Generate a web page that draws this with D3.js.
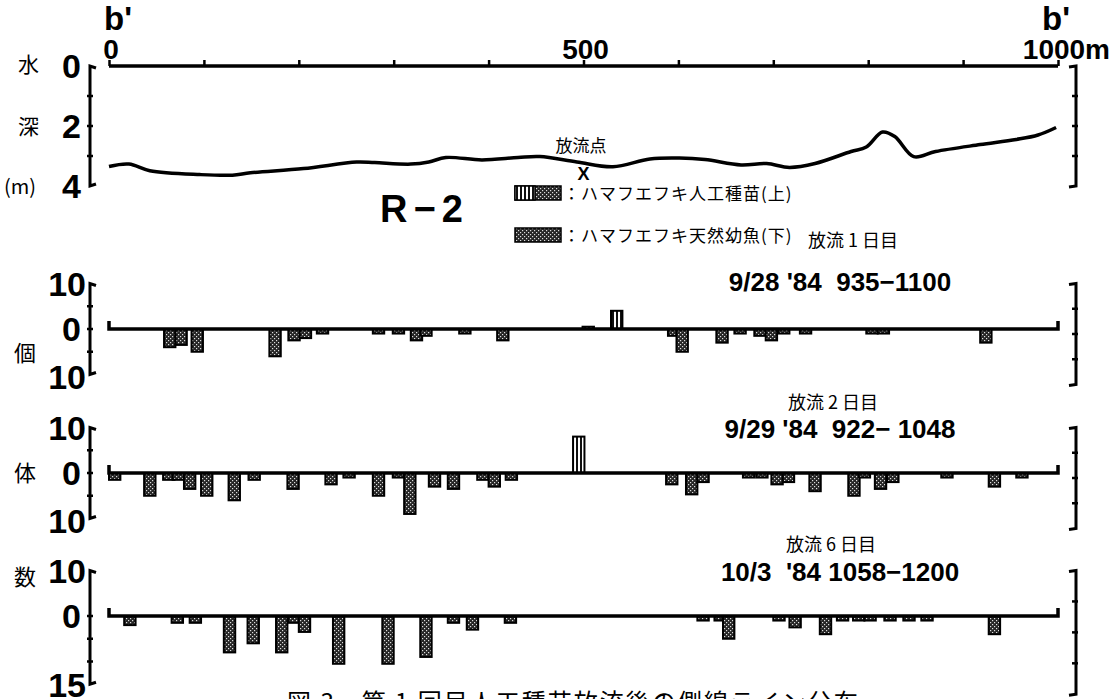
<!DOCTYPE html>
<html>
<head>
<meta charset="utf-8">
<script src="https://cdn.jsdelivr.net/npm/d3@7/dist/d3.min.js"></script>
<style>
  html, body { margin: 0; padding: 0; background: #fff; }
  svg { display: block; }
  .num { font-family: "Liberation Sans", "DejaVu Sans", sans-serif; font-weight: bold; fill: #000; }
  .jp { font-family: "Noto Sans CJK JP", sans-serif; fill: #000; }
</style>
</head>
<body>
<div id="chart"></div>
<script>
////////////////////////////////////////////////////////////
// Data
////////////////////////////////////////////////////////////

// distance along the line (m)
const dist_ticks = [0, 100, 200, 300, 400, 500, 600, 700, 800, 900, 1000]
const dist_labels = [[0, '0'], [500, '500'], [1000, '1000m']]

// water depth profile [distance m, depth m]
const depth_profile = [
  [0, 3.35], [21, 3.27], [43, 3.49], [96, 3.62], [130, 3.64], [149, 3.56],
  [205, 3.42], [261, 3.2], [280, 3.22], [318, 3.27], [337, 3.2], [355, 3.05],
  [393, 3.13], [431, 3.05], [454, 3.02], [493, 3.2], [531, 3.36], [570, 3.1],
  [601, 3.07], [628, 3.12], [666, 3.3], [693, 3.25], [717, 3.38], [744, 3.25],
  [782, 2.85], [798, 2.7], [815, 2.2], [828, 2.35], [848, 3.02], [871, 2.85],
  [918, 2.62], [956, 2.45], [979, 2.3], [998, 2.05]
]
const depth_ticks = [0, 2, 4]
const release_point = 500

// counts per 12 m cell: + = 人工種苗 (upper), - = 天然幼魚 (lower)
const bar_width_m = 12

const day1_bars = [
  [58, -4], [70, -3.5], [87, -5], [169, -6], [189, -2.5], [201, -2], [219, -1],
  [278, -1], [299, -1], [318, -2.5], [328, -1.5], [369, -1], [409, -2.5],
  [499, 0.5], [529, 4], [589, -1.5], [598, -5], [640, -3], [659, -1],
  [680, -1.5], [692, -2.5], [705, -1], [728, -1], [798, -1], [810, -1], [918, -3]
]

const day2_bars = [
  [0, -1.5], [37, -5], [57, -1.5], [67, -1.5], [79, -3.5], [97, -5], [126, -6],
  [147, -1.5], [188, -3.5], [228, -2.5], [247, -1], [278, -5], [299, -1],
  [311, -9], [337, -3], [357, -3.5], [388, -1.5], [400, -3], [418, -1.5],
  [489, 8], [587, -2.5], [608, -4.7], [620, -2], [668, -1], [682, -1],
  [698, -2.5], [710, -2], [738, -4], [779, -5], [790, -1], [807, -3.5],
  [820, -2], [877, -1], [927, -3], [956, -1]
]

const day6_bars = [
  [16, -2], [66, -1.5], [85, -1.5], [121, -8], [146, -6], [176, -8], [189, -1.5],
  [200, -3.5], [236, -10.5], [288, -10.5], [328, -9], [357, -1.5], [377, -3],
  [417, -1.5], [620, -1], [638, -1], [647, -5], [700, -1], [717, -2.5],
  [749, -4], [767, -1], [784, -1], [796, -1], [817, -1], [837, -1], [856, -1],
  [927, -4]
]

const panel_dates = ["9/28 '84  935−1100", "9/29 '84  922− 1048", "10/3  '84 1058−1200"]
const panel_days = ['放流 1 日目', '放流 2 日目', '放流 6 日目']
const panel_ranges = [[10, 10], [10, 10], [10, 15]]
const side_kanji = ['個', '体', '数']
const legend_items = ['：ハマフエフキ人工種苗(上)', '：ハマフエフキ天然幼魚(下)']
const caption = '図 3　第 1 回目人工種苗放流後の側線ライン分布'

////////////////////////////////////////////////////////////
// Layout
////////////////////////////////////////////////////////////

const W = 1114
const H = 699

const svg = d3.select('#chart').append('svg')
  .attr('width', W)
  .attr('height', H)

svg.append('rect').attr('width', W).attr('height', H).attr('fill', '#fff')

// fill patterns for the two kinds of bars
let defs = svg.append('defs')
let stip = defs.append('pattern')
  .attr('id', 'stip').attr('width', 4).attr('height', 4)
  .attr('patternUnits', 'userSpaceOnUse')
stip.append('rect').attr('width', 4).attr('height', 4).attr('fill', '#262626')
stip.append('rect').attr('x', 0).attr('y', 0).attr('width', 1.2).attr('height', 1.2).attr('fill', '#ddd')
stip.append('rect').attr('x', 2).attr('y', 2).attr('width', 1.2).attr('height', 1.2).attr('fill', '#ddd')

let stripe = defs.append('pattern')
  .attr('id', 'stripe').attr('width', 4).attr('height', 4)
  .attr('patternUnits', 'userSpaceOnUse')
stripe.append('rect').attr('width', 4).attr('height', 4).attr('fill', '#fff')
stripe.append('rect').attr('width', 2).attr('height', 4).attr('fill', '#111')

const x = d3.scaleLinear().domain([0, 1000]).range([109, 1058])

const left_br_x = 90
const right_br_x = 1076

function left_bracket(y0, y1, tick_ys) {
  let g = svg.append('g')
  g.append('path')
    .attr('d', `M${left_br_x + 6},${y0 + 2} L${left_br_x},${y0} L${left_br_x},${y1} L${left_br_x + 6},${y1 - 2}`)
    .attr('fill', 'none').attr('stroke', '#000').attr('stroke-width', 3)
  for (let ty of tick_ys) {
    g.append('line')
      .attr('x1', left_br_x - 3).attr('x2', left_br_x + 3)
      .attr('y1', ty).attr('y2', ty)
      .attr('stroke', '#000').attr('stroke-width', 2.5)
  }
}

function right_bracket(y0, y1, n) {
  let g = svg.append('g')
  g.append('path')
    .attr('d', `M${right_br_x - 7},${y0 + 1} L${right_br_x},${y0} L${right_br_x},${y1} L${right_br_x - 7},${y1 + 1}`)
    .attr('fill', 'none').attr('stroke', '#000').attr('stroke-width', 3)
  for (let i = 1; i < n; i++) {
    let ty = y0 + (y1 - y0) * i / n
    g.append('line')
      .attr('x1', right_br_x - 4).attr('x2', right_br_x + 2)
      .attr('y1', ty).attr('y2', ty)
      .attr('stroke', '#000').attr('stroke-width', 2.5)
  }
}

////////////////////////////////////////////////////////////
// Top: distance axis and depth profile
////////////////////////////////////////////////////////////

const depth_y = d3.scaleLinear().domain([0, 4]).range([66, 186])
const axis_y = depth_y(0)

svg.append('text').attr('class', 'num')
  .attr('x', x(0) - 5).attr('y', 30)
  .attr('font-size', 33).text("b'")
svg.append('text').attr('class', 'num')
  .attr('x', 1042).attr('y', 30)
  .attr('font-size', 33).text("b'")

let top_axis = svg.append('g')
  .attr('transform', `translate(0,${axis_y})`)
  .call(d3.axisTop(x).tickValues(dist_ticks).tickSize(6).tickFormat(''))
top_axis.select('.domain').remove()
top_axis.selectAll('line').attr('stroke', '#000').attr('stroke-width', 2.5)
top_axis.append('line')
  .attr('x1', x(0)).attr('x2', x(1000))
  .attr('stroke', '#000').attr('stroke-width', 3.5)

svg.selectAll('.dist-label')
  .data(dist_labels)
  .enter()
  .append('text')
    .attr('class', 'num dist-label')
    .attr('x', d => d[0] == 1000 ? 1110 : x(d[0]) + 2)
    .attr('y', axis_y - 7)
    .attr('font-size', 28)
    .attr('text-anchor', d => d[0] == 1000 ? 'end' : 'middle')
    .text(d => d[1])

// depth labels
svg.selectAll('.depth-label')
  .data(depth_ticks)
  .enter()
  .append('text')
    .attr('class', 'num depth-label')
    .attr('x', left_br_x - 9)
    .attr('y', d => depth_y(d) + 12)
    .attr('font-size', 34)
    .attr('text-anchor', 'end')
    .text(d => d)

left_bracket(depth_y(0), depth_y(4), [depth_y(1), depth_y(2), depth_y(3)])
right_bracket(depth_y(0), depth_y(4), 4)

svg.append('text').attr('class', 'jp').attr('x', 18).attr('y', depth_y(0) + 6).attr('font-size', 21).text('水')
svg.append('text').attr('class', 'jp').attr('x', 18).attr('y', depth_y(2) + 8).attr('font-size', 21).text('深')
svg.append('text').attr('class', 'jp').attr('x', 4).attr('y', depth_y(4) + 8).attr('font-size', 20).text('(m)')

svg.append('path')
  .datum(depth_profile)
  .attr('d', d3.line()
    .x(d => x(d[0]))
    .y(d => depth_y(d[1]))
    .curve(d3.curveCatmullRom))
  .attr('fill', 'none')
  .attr('stroke', '#000')
  .attr('stroke-width', 3.5)

// release point marker
svg.append('text').attr('class', 'jp')
  .attr('x', x(release_point) - 28).attr('y', 152)
  .attr('font-size', 17).text('放流点')
svg.append('text').attr('class', 'num')
  .attr('x', x(release_point)).attr('y', 180)
  .attr('font-size', 18).attr('text-anchor', 'middle')
  .attr('font-weight', 'normal').text('X')

////////////////////////////////////////////////////////////
// Title and legend
////////////////////////////////////////////////////////////

svg.append('text').attr('class', 'num')
  .attr('x', 380).attr('y', 222)
  .attr('font-size', 38).attr('font-weight', 'normal')
  .attr('letter-spacing', 6)
  .text('R−2')

let legend = svg.append('g')
legend.selectAll('rect.sw')
  .data(legend_items)
  .enter()
  .append('rect')
    .attr('class', 'sw')
    .attr('x', 515)
    .attr('y', (d, i) => 186 + i * 42)
    .attr('width', 46)
    .attr('height', 14)
    .attr('fill', 'url(#stip)')
    .attr('stroke', '#000')
    .attr('stroke-width', 1.5)
// the upper swatch is half striped
legend.append('rect')
  .attr('x', 515).attr('y', 186)
  .attr('width', 20).attr('height', 14)
  .attr('fill', 'url(#stripe)')
  .attr('stroke', '#000').attr('stroke-width', 1.5)
legend.selectAll('text')
  .data(legend_items)
  .enter()
  .append('text')
    .attr('class', 'jp')
    .attr('x', 563)
    .attr('y', (d, i) => 200 + i * 42)
    .attr('font-size', 17)
    .attr('letter-spacing', 1)
    .text(d => d)

////////////////////////////////////////////////////////////
// Count panels
////////////////////////////////////////////////////////////

const panels = [
  { bars: day1_bars, base: 329, date_y: 291, day_y: 247, day_x: 808 },
  { bars: day2_bars, base: 473, date_y: 438, day_y: 409, day_x: 788 },
  { bars: day6_bars, base: 616, date_y: 581, day_y: 551, day_x: 786 }
]
const unit_px = 4.55

panels.forEach((p, i) => {

  let top_v = panel_ranges[i][0]
  let bot_v = panel_ranges[i][1]
  let y = d3.scaleLinear()
    .domain([-bot_v, top_v])
    .range([p.base + bot_v * unit_px, p.base - top_v * unit_px])

  // axis labels
  svg.append('text').attr('class', 'num')
    .attr('x', left_br_x - 4).attr('y', y(top_v) + 12)
    .attr('font-size', 34).attr('text-anchor', 'end').text(top_v)
  svg.append('text').attr('class', 'num')
    .attr('x', left_br_x - 9).attr('y', y(0) + 12)
    .attr('font-size', 34).attr('text-anchor', 'end').text(0)
  svg.append('text').attr('class', 'num')
    .attr('x', left_br_x - 4).attr('y', Math.min(y(-bot_v) + 14, 697))
    .attr('font-size', 34).attr('text-anchor', 'end').text(bot_v)

  let ticks = i == 2 ? [y(0), y(-5), y(-10)] : [y(5), y(0), y(-5)]
  left_bracket(y(top_v), y(-bot_v), ticks)
  right_bracket(y(top_v), y(-bot_v) + 10, 4)

  // kanji on the left
  let ky = [y(0) + 32, y(0) + 8, y(top_v) + 14][i]
  svg.append('text').attr('class', 'jp')
    .attr('x', 14).attr('y', ky)
    .attr('font-size', 22).text(side_kanji[i])

  // bars
  let g = svg.append('g')
  g.selectAll('rect')
    .data(p.bars)
    .enter()
    .append('rect')
      .attr('x', d => x(d[0]))
      .attr('width', d => x(d[0] + bar_width_m) - x(d[0]))
      .attr('y', d => y(Math.max(0, d[1])))
      .attr('height', d => Math.abs(y(d[1]) - y(0)))
      .attr('fill', d => d[1] > 0 ? 'url(#stripe)' : 'url(#stip)')
      .attr('stroke', '#000')
      .attr('stroke-width', 2)

  // baseline with end hooks
  g.append('path')
    .attr('d', `M${x(0)},${y(0) - 8} L${x(0)},${y(0)} L${x(1000)},${y(0)} L${x(1000)},${y(0) - 8}`)
    .attr('fill', 'none').attr('stroke', '#000').attr('stroke-width', 3.5)

  // date and day labels
  svg.append('text').attr('class', 'num')
    .attr('x', 840).attr('y', p.date_y)
    .attr('font-size', 26).attr('text-anchor', 'middle')
    .attr('xml:space', 'preserve')
    .text(panel_dates[i])
  svg.append('text').attr('class', 'jp')
    .attr('x', p.day_x).attr('y', p.day_y)
    .attr('font-size', 18)
    .text(panel_days[i])
})

// caption (cut off at the bottom edge of the scan)
svg.append('text').attr('class', 'jp')
  .attr('x', 287).attr('y', 711)
  .attr('font-size', 24)
  .attr('letter-spacing', 2)
  .text(caption)
</script>
</body>
</html>
